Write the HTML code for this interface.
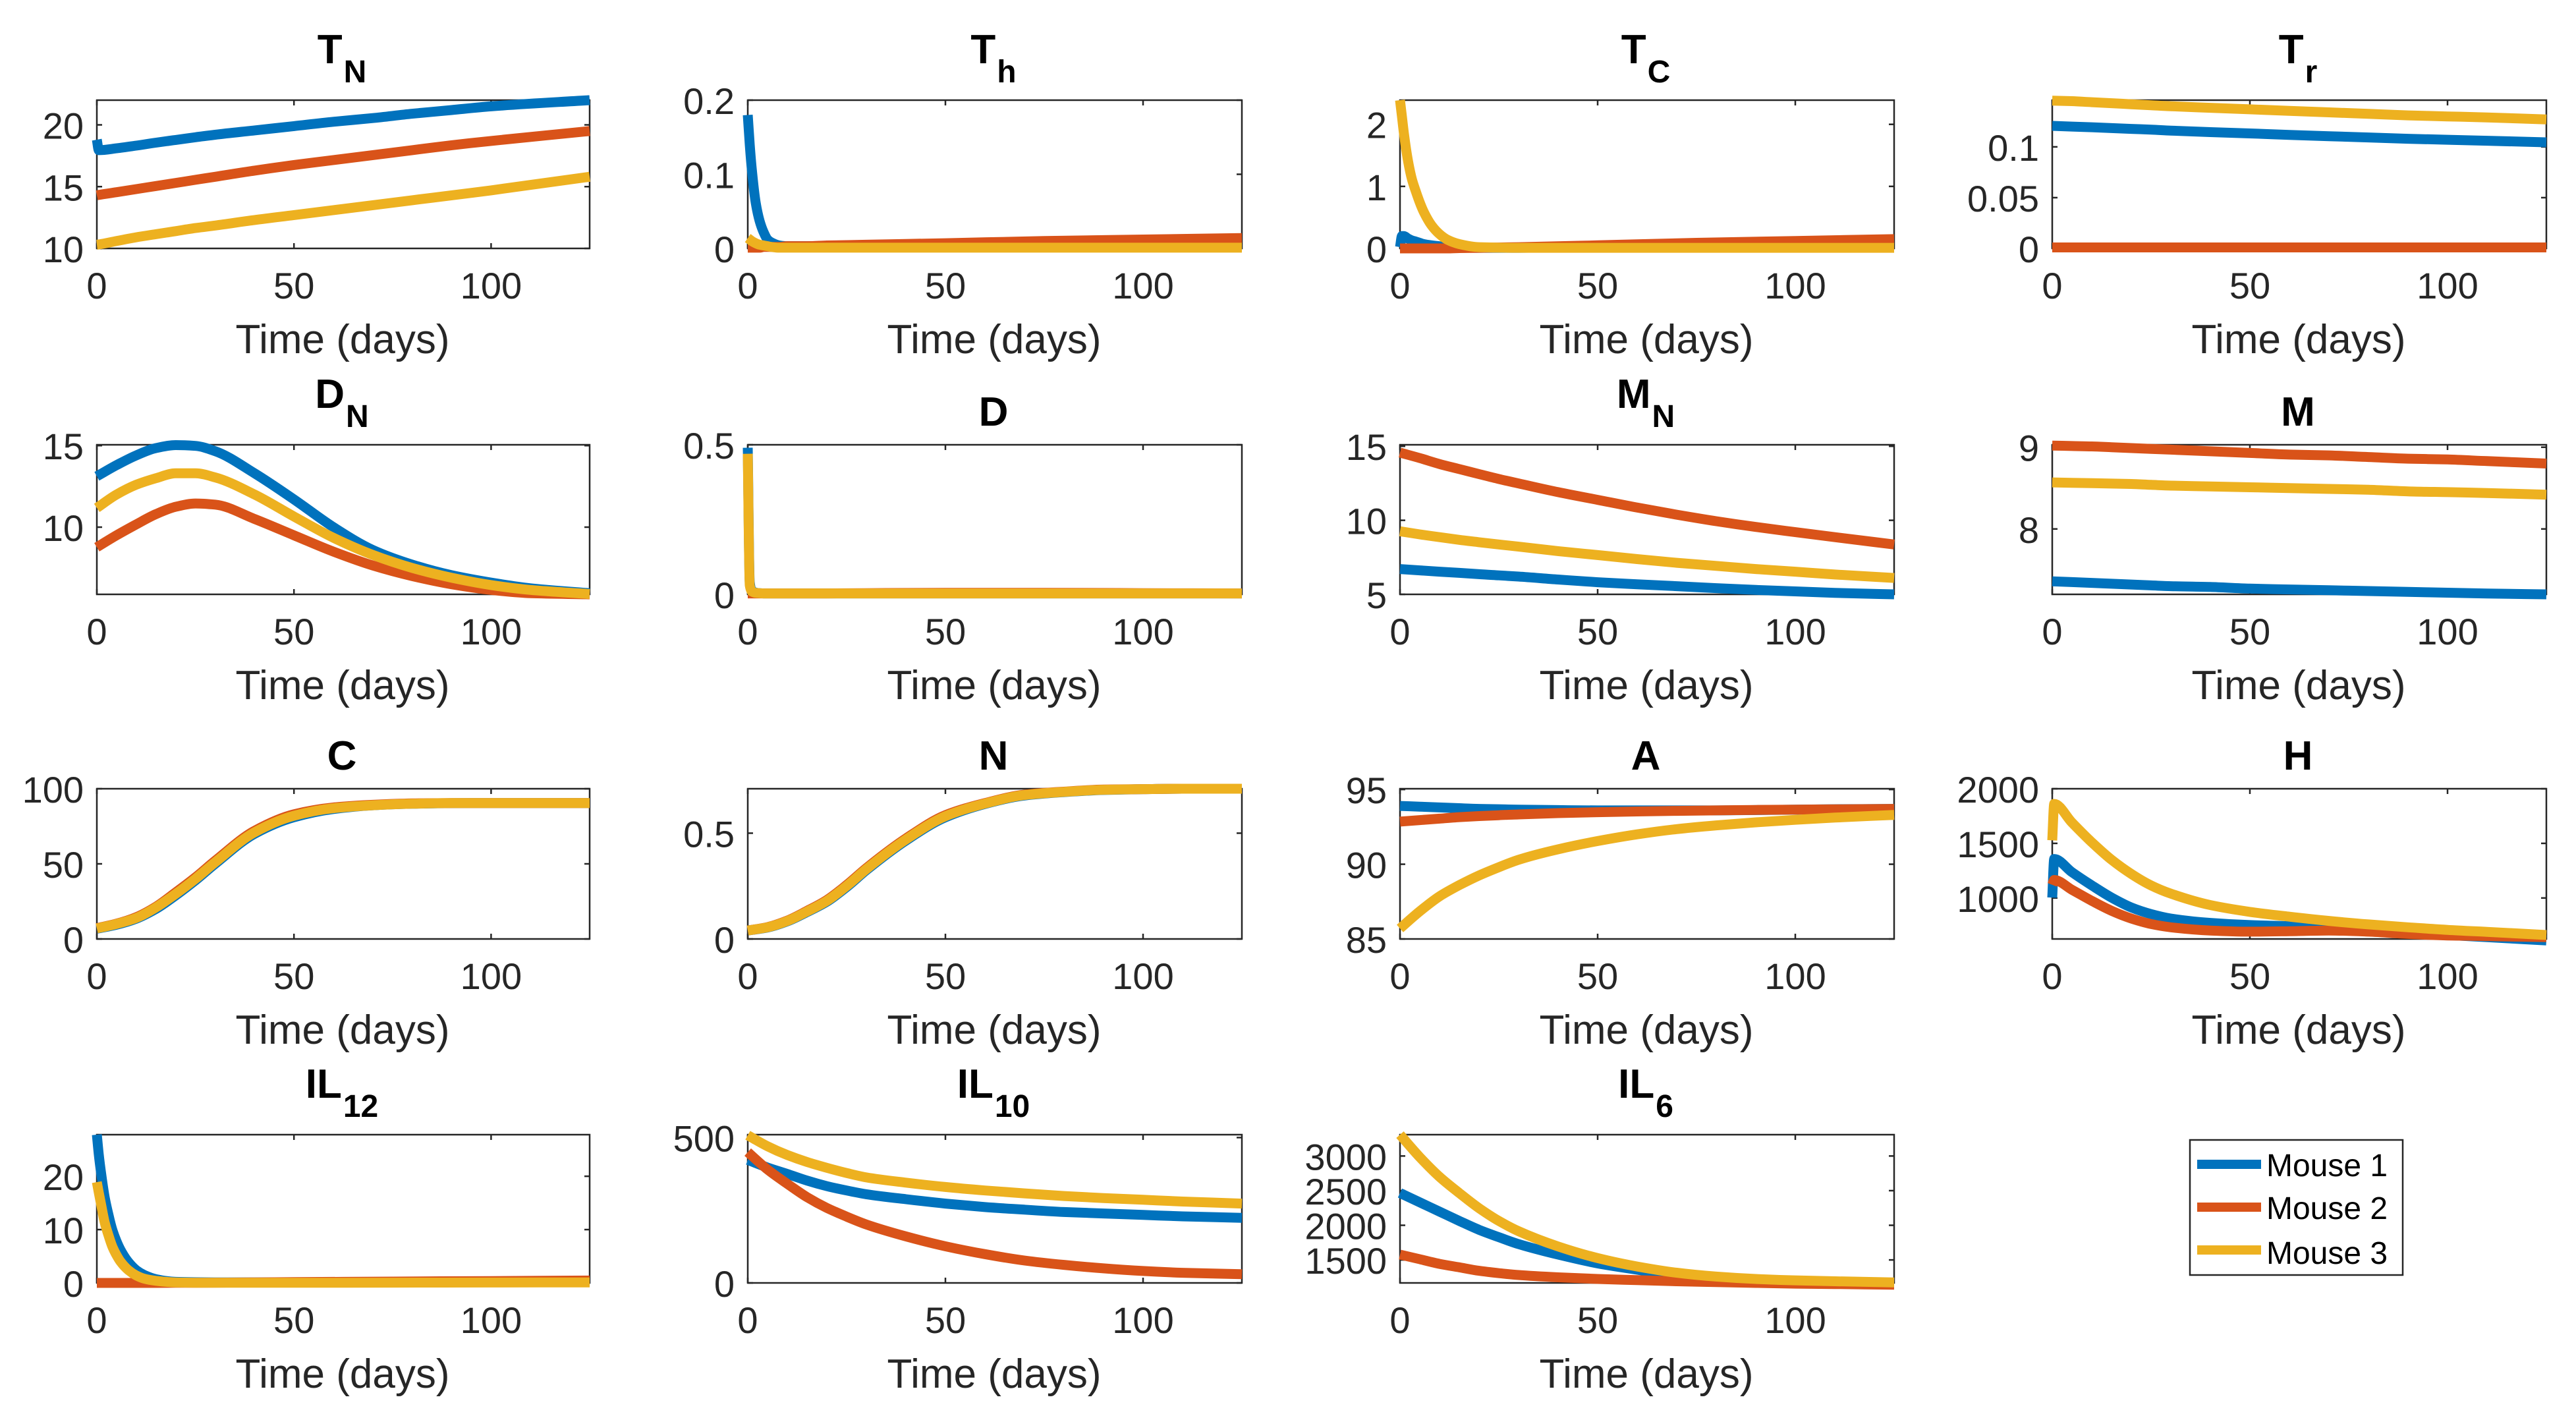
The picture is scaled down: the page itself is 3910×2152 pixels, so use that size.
<!DOCTYPE html>
<html lang="en">
<head>
<meta charset="utf-8">
<title>Mouse time courses</title>
<style>
html,body{margin:0;padding:0;background:#fff;}
svg{display:block;font-family:"Liberation Sans",Arial,sans-serif;}
</style>
</head>
<body>
<svg id="chart" xmlns="http://www.w3.org/2000/svg" width="3910" height="2152" viewBox="0 0 3910 2152">
<rect x="0" y="0" width="3910" height="2152" fill="#ffffff"/>
<g id="panels"></g>
<g>
<rect x="3324" y="1730" width="323" height="205" fill="#ffffff" stroke="#262626" stroke-width="2.5"/>
<g>
<line x1="3335" y1="1767" x2="3432" y2="1767" stroke="#0072BD" stroke-width="14"/>
<text x="3440" y="1785" font-size="48" fill="#000">Mouse 1</text>
</g>
<g>
<line x1="3335" y1="1832" x2="3432" y2="1832" stroke="#D95319" stroke-width="14"/>
<text x="3440" y="1850" font-size="48" fill="#000">Mouse 2</text>
</g>
<g>
<line x1="3335" y1="1897" x2="3432" y2="1897" stroke="#EDB120" stroke-width="14"/>
<text x="3440" y="1918" font-size="48" fill="#000">Mouse 3</text>
</g>
</g>
</svg>
<script>
// ---------- shared time samples (days) ----------
const timeSmooth = [0,5,10,15,20,25,30,40,50,60,70,80,90,100,110,125];
const timeFast = [0,0.5,1,2,3,4,5,6,8,10,12,15,20,30,50,75,100,125];
const timeKink = [0,0.5,5,10,15,20,25,30,40,50,60,70,80,90,100,110,125];
const xTicks = [0,50,100];
const xMax = 125;

// ---------- T_N ----------
const tnTime = [0,0.5,5,10,15,20,25,30,40,50,60,70,80,90,100,125];
const tnBlue = [18.8,17.95,18.1,18.32,18.56,18.78,19.0,19.2,19.55,19.9,20.25,20.55,20.9,21.2,21.5,22.0];
const tnRed = [14.3,14.33,14.55,14.8,15.05,15.3,15.55,15.8,16.3,16.75,17.15,17.55,17.95,18.35,18.7,19.5];
const tnYellow = [10.3,10.32,10.6,10.9,11.15,11.4,11.65,11.85,12.3,12.7,13.1,13.5,13.9,14.3,14.7,15.8];
const tnTicks = [10,15,20];

// ---------- T_h ----------
const thBlue = [0.18,0.14,0.108,0.062,0.037,0.022,0.012,0.008,0.004,0.003,0.003,0.003,0.003,0.003,0.003,0.002,0.002,0.002];
const thRed = [0.001,0.001,0.001,0.001,0.001,0.002,0.002,0.002,0.002,0.003,0.003,0.003,0.004,0.005,0.007,0.01,0.012,0.014];
const thYellow = [0.014,0.012,0.01,0.007,0.005,0.004,0.003,0.002,0.001,0.001,0.001,0.001,0.001,0.001,0.001,0.001,0.001,0.001];
const thTicks = [0,0.1,0.2];

// ---------- T_C ----------
const tcBlue = [0.02,0.2,0.2,0.16,0.13,0.11,0.09,0.07,0.05,0.035,0.025,0.015,0.01,0.01,0.02,0.03,0.03,0.03];
const tcRed = [0,0,0,0,0,0,0,0,0,0,0,0.005,0.01,0.02,0.05,0.09,0.12,0.15];
const tcYellow = [2.39,2.12,1.85,1.42,1.12,0.92,0.74,0.59,0.37,0.23,0.14,0.07,0.02,0.01,0.01,0.01,0.01,0.01];
const tcTicks = [0,1,2];

// ---------- T_r ----------
const trBlue = [0.1207,0.12,0.1193,0.1185,0.1177,0.117,0.116,0.1145,0.1132,0.1118,0.1105,0.1093,0.108,0.107,0.106,0.1045];
const trRed = [0.001,0.001,0.001,0.001,0.001,0.001,0.001,0.001,0.001,0.001,0.001,0.001,0.001,0.001,0.001,0.001];
const trYellow = [0.1455,0.145,0.144,0.143,0.142,0.141,0.14,0.1385,0.137,0.1355,0.134,0.1325,0.131,0.13,0.129,0.127];
const trTicks = [0,0.05,0.1];

// ---------- D_N ----------
const dnBlue = [13.12,13.8,14.4,14.85,15.03,14.98,14.66,13.3,11.7,10.0,8.6,7.7,7.05,6.6,6.25,5.95];
const dnRed = [8.77,9.5,10.17,10.8,11.25,11.45,11.38,10.5,9.5,8.5,7.65,7.0,6.5,6.15,5.95,5.88];
const dnYellow = [11.18,12.0,12.6,13.0,13.3,13.3,13.05,12.0,10.65,9.35,8.3,7.5,6.9,6.45,6.15,5.9];
const dnTicks = [10,15];

// ---------- D ----------
const dBlue = [0.49,0.04,0.012,0.006,0.004,0.003,0.003,0.003,0.003,0.003,0.003,0.003,0.003,0.003,0.003,0.003,0.003,0.003];
const dRed = [0.003,0.003,0.003,0.003,0.003,0.003,0.003,0.003,0.003,0.003,0.003,0.003,0.003,0.004,0.005,0.005,0.004,0.003];
const dYellow = [0.47,0.03,0.01,0.005,0.004,0.003,0.003,0.003,0.003,0.003,0.003,0.003,0.003,0.003,0.003,0.003,0.003,0.003];
const dTicks = [0,0.5];

// ---------- M_N ----------
const mnBlue = [6.71,6.62,6.53,6.45,6.36,6.28,6.2,6.0,5.82,5.68,5.55,5.42,5.3,5.2,5.1,5.0];
const mnRed = [14.57,14.2,13.8,13.46,13.12,12.79,12.49,11.9,11.38,10.86,10.38,9.94,9.55,9.2,8.86,8.37];
const mnYellow = [9.26,9.05,8.86,8.68,8.52,8.37,8.22,7.92,7.65,7.38,7.13,6.92,6.71,6.53,6.34,6.11];
const mnTicks = [5,10,15];

// ---------- M ----------
const mBlue = [7.36,7.35,7.34,7.33,7.32,7.31,7.3,7.29,7.27,7.26,7.25,7.24,7.23,7.22,7.21,7.2];
const mRed = [9.02,9.015,9.01,9.0,8.99,8.98,8.97,8.95,8.93,8.91,8.9,8.88,8.86,8.85,8.83,8.8];
const mYellow = [8.57,8.565,8.56,8.555,8.55,8.54,8.53,8.52,8.51,8.5,8.49,8.48,8.46,8.45,8.44,8.42];
const mTicks = [8,9];

// ---------- C ----------
const cBlue = [6.8,9.5,13.5,20,29,39,50,70,81,86.5,89,90,90.4,90.5,90.5,90.5];
const cRed = [7.2,10.2,14.5,21.5,31,41,52,72,83,87.5,89.3,90.2,90.5,90.5,90.5,90.5];
const cYellow = [7,10,14,21,30,40,51,71,82,87,89,90,90.5,90.5,90.5,90.5];
const cTicks = [0,50,100];

// ---------- N ----------
const nBlue = [0.04,0.054,0.083,0.127,0.176,0.245,0.325,0.465,0.575,0.638,0.678,0.694,0.704,0.708,0.71,0.71];
const nRed = [0.04,0.056,0.087,0.133,0.184,0.255,0.335,0.475,0.585,0.642,0.682,0.696,0.706,0.708,0.71,0.71];
const nYellow = [0.04,0.055,0.085,0.13,0.18,0.25,0.33,0.47,0.58,0.64,0.68,0.695,0.705,0.708,0.71,0.71];
const nTicks = [0,0.5];

// ---------- A ----------
const aBlue = [93.9,93.85,93.8,93.75,93.7,93.68,93.65,93.62,93.6,93.6,93.6,93.6,93.62,93.65,93.68,93.7];
const aRed = [92.85,92.95,93.05,93.15,93.22,93.28,93.33,93.42,93.48,93.53,93.57,93.6,93.63,93.65,93.67,93.7];
const aYellow = [85.7,86.85,87.85,88.6,89.25,89.8,90.3,91.0,91.55,92.0,92.35,92.6,92.8,92.97,93.12,93.3];
const aTicks = [85,90,95];

// ---------- H ----------
const hBlue = [1004,1357,1236,1115,1004,913,853,812,772,752,742,728,712,681,661,641,611];
const hRed = [1120,1165,1075,974,883,812,762,732,702,692,696,702,692,671,657,651,641];
const hYellow = [1528,1861,1690,1510,1350,1220,1115,1040,935,873,829,790,758,732,708,690,661];
const hTicks = [1000,1500,2000];

// ---------- IL_12 ----------
const il12Blue = [27.8,24,21,16,12.6,9.8,7.8,6.2,3.9,2.4,1.5,0.7,0.2,0.1,0.1,0.15,0.2,0.25];
const il12Red = [0,0,0,0,0,0,0,0,0,0,0,0,0.02,0.05,0.15,0.25,0.35,0.45];
const il12Yellow = [18.9,16.9,15,11.3,8.8,6.7,5.2,4,2.4,1.4,0.8,0.4,0.1,0.02,0.02,0.05,0.08,0.1];
const il12Ticks = [0,10,20];

// ---------- IL_10 ----------
const il10Blue = [423,397,375,352,333,318,305,288,273,261,252,244,239,234,229,224];
const il10Red = [450,390,341,295,258,228,201,160,126,99,77,62,50,41,35,30];
const il10Yellow = [508,470,440,416,396,378,363,345,330,318,308,299,292,286,280,273];
const il10Ticks = [0,500];

// ---------- IL_6 ----------
const il6Blue = [2465,2331,2197,2063,1935,1828,1728,1577,1450,1359,1280,1232,1205,1185,1172,1158];
const il6Red = [1577,1510,1443,1393,1343,1309,1282,1249,1225,1208,1192,1180,1168,1158,1152,1142];
const il6Yellow = [3308,2984,2699,2465,2247,2063,1915,1694,1527,1405,1315,1259,1225,1205,1192,1175];
const il6Ticks = [1500,2000,2500,3000];

// ---------- panel configuration ----------
const panels = [
  {id:'tn',  main:'T',  sub:'N',  col:0,row:0,yMin:10,  yMax:22,    ticks:tnTicks,  t:tnTime,     b:tnBlue,  r:tnRed,  y:tnYellow},
  {id:'th',  main:'T',  sub:'h',  col:1,row:0,yMin:0,   yMax:0.2,   ticks:thTicks,  t:timeFast,   b:thBlue,  r:thRed,  y:thYellow},
  {id:'tc',  main:'T',  sub:'C',  col:2,row:0,yMin:0,   yMax:2.39,  ticks:tcTicks,  t:timeFast,   b:tcBlue,  r:tcRed,  y:tcYellow},
  {id:'tr',  main:'T',  sub:'r',  col:3,row:0,yMin:0,   yMax:0.146, ticks:trTicks,  t:timeSmooth, b:trBlue,  r:trRed,  y:trYellow},
  {id:'dn',  main:'D',  sub:'N',  col:0,row:1,yMin:5.88,yMax:15.05, ticks:dnTicks,  t:timeSmooth, b:dnBlue,  r:dnRed,  y:dnYellow},
  {id:'d',   main:'D',  sub:'',   col:1,row:1,yMin:0,   yMax:0.5,   ticks:dTicks,   t:timeFast,   b:dBlue,   r:dRed,   y:dYellow},
  {id:'mn',  main:'M',  sub:'N',  col:2,row:1,yMin:5,   yMax:15.1,  ticks:mnTicks,  t:timeSmooth, b:mnBlue,  r:mnRed,  y:mnYellow},
  {id:'m',   main:'M',  sub:'',   col:3,row:1,yMin:7.2, yMax:9.03,  ticks:mTicks,   t:timeSmooth, b:mBlue,   r:mRed,   y:mYellow},
  {id:'c',   main:'C',  sub:'',   col:0,row:2,yMin:0,   yMax:100,   ticks:cTicks,   t:timeSmooth, b:cBlue,   r:cRed,   y:cYellow},
  {id:'n',   main:'N',  sub:'',   col:1,row:2,yMin:0,   yMax:0.71,  ticks:nTicks,   t:timeSmooth, b:nBlue,   r:nRed,   y:nYellow},
  {id:'a',   main:'A',  sub:'',   col:2,row:2,yMin:85,  yMax:95.05, ticks:aTicks,   t:timeSmooth, b:aBlue,   r:aRed,   y:aYellow},
  {id:'h',   main:'H',  sub:'',   col:3,row:2,yMin:625, yMax:2000,  ticks:hTicks,   t:timeKink,   b:hBlue,   r:hRed,   y:hYellow},
  {id:'il12',main:'IL', sub:'12', col:0,row:3,yMin:0,   yMax:27.8,  ticks:il12Ticks,t:timeFast,   b:il12Blue,r:il12Red,y:il12Yellow},
  {id:'il10',main:'IL', sub:'10', col:1,row:3,yMin:0,   yMax:510,   ticks:il10Ticks,t:timeSmooth, b:il10Blue,r:il10Red,y:il10Yellow},
  {id:'il6', main:'IL', sub:'6',  col:2,row:3,yMin:1168,yMax:3308,  ticks:il6Ticks, t:timeSmooth, b:il6Blue, r:il6Red, y:il6Yellow}
];

const colLeft = [147,1135,2125,3115];
const colWidth = [748,750,750,750];
const rowTop = [152,675,1197,1722];
const rowHeight = [225,227,228,225];
const INK = '#262626';
const NS = 'http://www.w3.org/2000/svg';
const host = document.getElementById('panels');

function mk(tag, parent) {
  const el = document.createElementNS(NS, tag);
  parent.appendChild(el);
  return el;
}

function tickLine(parent, name, x1, y1, x2, y2) {
  const el = mk('line', parent);
  
  
  el.setAttribute('x1', x1);
  el.setAttribute('y1', y1);
  el.setAttribute('x2', x2);
  el.setAttribute('y2', y2);
  el.setAttribute('stroke', INK);
  el.setAttribute('stroke-width', 2.5);
  return el;
}

// Monotone cubic path through screen-space samples
function smoothPath(xs, ys) {
  const n = xs.length;
  const d = [];
  for (let i = 0; i < n - 1; i++) d.push((ys[i + 1] - ys[i]) / (xs[i + 1] - xs[i]));
  const m = [d[0]];
  for (let i = 1; i < n - 1; i++) {
    if (d[i - 1] * d[i] <= 0) {
      m.push(0);
    } else {
      const h0 = xs[i] - xs[i - 1], h1 = xs[i + 1] - xs[i];
      const w1 = 2 * h1 + h0, w2 = h1 + 2 * h0;
      m.push((w1 + w2) / (w1 / d[i - 1] + w2 / d[i]));
    }
  }
  m.push(d[n - 2]);
  let out = 'M' + xs[0].toFixed(1) + ' ' + ys[0].toFixed(1);
  for (let i = 0; i < n - 1; i++) {
    const h = (xs[i + 1] - xs[i]) / 3;
    out += 'C' + (xs[i] + h).toFixed(1) + ' ' + (ys[i] + m[i] * h).toFixed(1) + ' ' +
      (xs[i + 1] - h).toFixed(1) + ' ' + (ys[i + 1] - m[i + 1] * h).toFixed(1) + ' ' +
      xs[i + 1].toFixed(1) + ' ' + ys[i + 1].toFixed(1);
  }
  return out;
}

function drawPanel(p) {
  const L = colLeft[p.col], W = colWidth[p.col], T = rowTop[p.row], H = rowHeight[p.row];
  const B = T + H, R = L + W;
  const xScale = function (v) { return L + (v / xMax) * W; };
  const yScale = function (v) { return B - ((v - p.yMin) / (p.yMax - p.yMin)) * H; };

  const g = mk('g', host);
  
  

  // title
  const title = mk('text', g);
  
  
  title.setAttribute('x', L + W / 2 - 2);
  title.setAttribute('y', p.sub ? T - 56 : T - 29);
  title.setAttribute('text-anchor', 'middle');
  title.setAttribute('font-weight', 'bold');
  title.setAttribute('font-size', 62);
  title.setAttribute('fill', '#000');
  const mainSpan = mk('tspan', title);
  mainSpan.textContent = p.main;
  if (p.sub) {
    const subSpan = mk('tspan', title);
    subSpan.setAttribute('font-size', 48);
    subSpan.setAttribute('dy', 29);
    subSpan.setAttribute('dx', 2);
    subSpan.textContent = p.sub;
  }

  // axes box
  const box = mk('rect', g);
  
  
  box.setAttribute('x', L);
  box.setAttribute('y', T);
  box.setAttribute('width', W);
  box.setAttribute('height', H);
  box.setAttribute('fill', 'none');
  box.setAttribute('stroke', INK);
  box.setAttribute('stroke-width', 2.5);

  // x ticks
  xTicks.forEach(function (v) {
    const x = xScale(v);
    tickLine(g, 'x-tick-' + p.id + '-' + v, x, B, x, B - 8);
    tickLine(g, 'x-tick-top-' + p.id + '-' + v, x, T, x, T + 8);
    const lab = mk('text', g);
    
    
    lab.setAttribute('x', x);
    lab.setAttribute('y', B + 76);
    lab.setAttribute('text-anchor', 'middle');
    lab.setAttribute('font-size', 56);
    lab.setAttribute('fill', INK);
    lab.textContent = String(v);
  });

  // y ticks
  p.ticks.forEach(function (v) {
    const y = yScale(v);
    tickLine(g, 'y-tick-' + p.id + '-' + v, L, y, L + 8, y);
    tickLine(g, 'y-tick-right-' + p.id + '-' + v, R, y, R - 8, y);
    const lab = mk('text', g);
    
    
    lab.setAttribute('x', L - 20);
    lab.setAttribute('y', y + 21);
    lab.setAttribute('text-anchor', 'end');
    lab.setAttribute('font-size', 56);
    lab.setAttribute('fill', INK);
    lab.textContent = String(v);
  });

  // x-axis title
  const xt = mk('text', g);
  
  
  xt.setAttribute('x', L + W / 2 - 1);
  xt.setAttribute('y', B + 159);
  xt.setAttribute('text-anchor', 'middle');
  xt.setAttribute('font-size', 62);
  xt.setAttribute('fill', INK);
  xt.textContent = 'Time (days)';

  // series
  const series = [
    {key:'mouse-1', vals:p.b, color:'#0072BD'},
    {key:'mouse-2', vals:p.r, color:'#D95319'},
    {key:'mouse-3', vals:p.y, color:'#EDB120'}
  ];
  series.forEach(function (s) {
    const xs = p.t.map(xScale);
    const ys = s.vals.map(yScale);
    const line = mk('path', g);
    
    
    line.setAttribute('d', smoothPath(xs, ys));
    line.setAttribute('fill', 'none');
    line.setAttribute('stroke', s.color);
    line.setAttribute('stroke-width', 15);
    line.setAttribute('stroke-linejoin', 'round');
    line.setAttribute('stroke-linecap', 'butt');
  });
}

panels.forEach(drawPanel);
</script>
</body>
</html>
